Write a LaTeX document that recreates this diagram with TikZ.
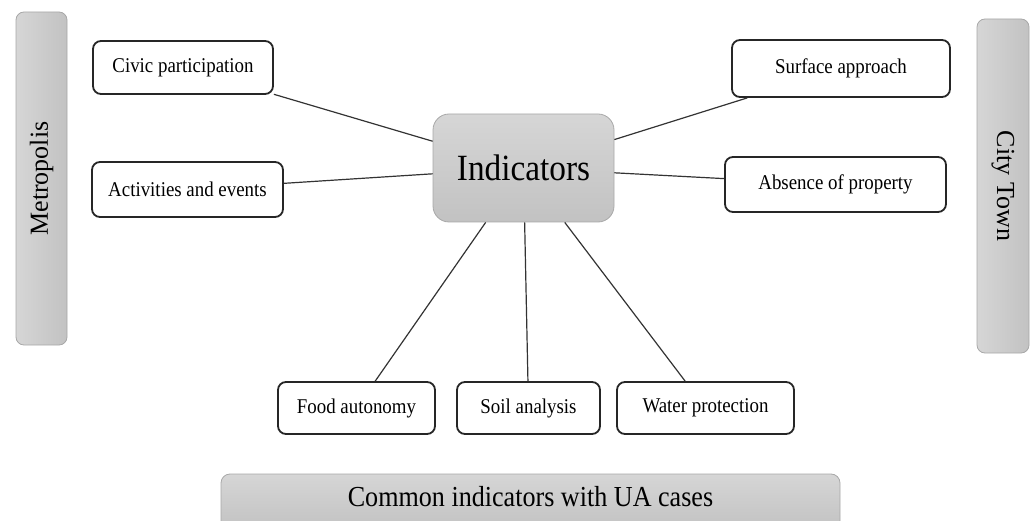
\documentclass[tikz,border=0pt]{standalone}
\usepackage{fontspec}
\setmainfont{Liberation Serif}[FakeStretch=0.9]
\newfontfamily\plainserif{Liberation Serif}
\definecolor{boxline}{HTML}{262626}
\definecolor{barline}{HTML}{A8A8A8}
\definecolor{grayA}{HTML}{D6D6D6}
\definecolor{grayB}{HTML}{C2C2C2}
\definecolor{connline}{HTML}{333333}
\tikzset{
  whitebox/.style={draw=boxline, line width=1.8pt, rounded corners=8pt, fill=white,
    inner sep=0pt, font=\fontsize{21}{25}\selectfont},
  graybar/.style={draw=barline, line width=0.8pt, rounded corners=8pt,
    left color=grayA, right color=grayB, inner sep=0pt},
  grayvbox/.style={draw=barline, line width=0.8pt, rounded corners=9pt,
    top color=grayA, bottom color=grayB, inner sep=0pt},
  conn/.style={draw=connline, line width=1.2pt}
}
\begin{document}
\begin{tikzpicture}[x=1pt,y=-1pt]
\useasboundingbox (0,0) rectangle (1035,521);
% side bars
\node[graybar, minimum width=51, minimum height=333] (metro) at (41.5,178.5) {};
\node[rotate=90, font=\plainserif\fontsize{26}{30}\selectfont] (metrotxt) at (metro.center) {Metropolis};
\node[graybar, minimum width=52, minimum height=334] (city) at (1003,186) {};
\node[rotate=-90, font=\plainserif\fontsize{26}{30}\selectfont] (citytxt) at (city.center) {City Town};
% bottom bar
\node[grayvbox, minimum width=619, minimum height=56] (common) at (530.5,502) {};
\node[font=\fontsize{29}{33}\selectfont] (commontxt) at (530.5,497) {Common indicators with UA cases};
% central node
\node[draw=barline, line width=0.8pt, rounded corners=16pt, top color=grayA, bottom color=grayB,
  minimum width=181, minimum height=108, inner sep=0pt, font=\fontsize{37}{42}\selectfont] (ind) at (523.5,168) {Indicators};
% satellite boxes
\node[whitebox, minimum width=180, minimum height=53] (civic) at (183,67.5) {Civic participation};
\node[whitebox, minimum width=191, minimum height=55] (act) at (187.5,189.5) {Activities and events};
\node[whitebox, minimum width=218, minimum height=57] (surf) at (841,68.5) {Surface approach};
\node[whitebox, minimum width=221, minimum height=55] (abs) at (835.5,184.5) {Absence of property};
\node[whitebox, minimum width=157, minimum height=52] (food) at (356.5,408) {Food autonomy};
\node[whitebox, minimum width=143, minimum height=52] (soil) at (528.5,408) {Soil analysis};
\node[whitebox, minimum width=177, minimum height=52] (water) at (705.5,408) {Water protection};
% connectors
\draw[conn] (civic) -- (ind);
\draw[conn] (act) -- (ind);
\draw[conn] (surf) -- (ind);
\draw[conn] (abs) -- (ind);
\draw[conn] (food) -- (ind);
\draw[conn] (soil) -- (ind);
\draw[conn] (water) -- (ind);
\end{tikzpicture}
\end{document}
